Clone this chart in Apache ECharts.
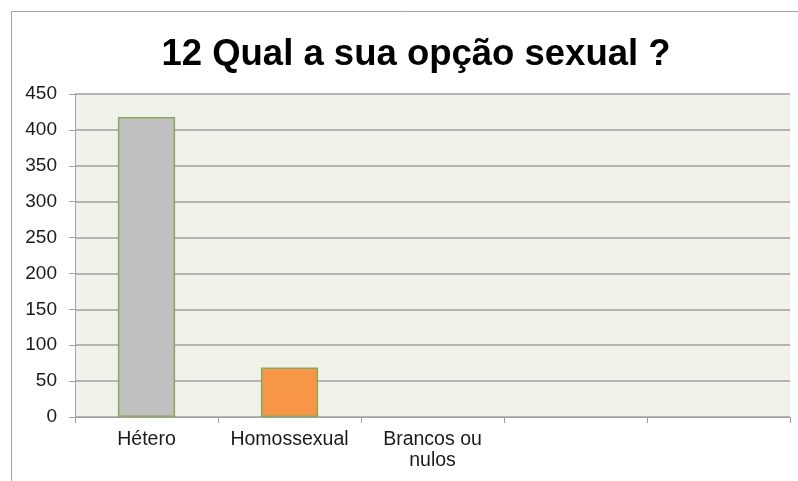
<!DOCTYPE html>
<html>
<head>
<meta charset="utf-8">
<title>12 Qual a sua opção sexual ?</title>
<script src="https://cdn.jsdelivr.net/npm/echarts@6/dist/echarts.min.js"></script>
<style>
  html, body { margin: 0; padding: 0; background: #ffffff; }
  #chart { width: 798px; height: 481px; }
</style>
</head>
<body>
<div id="chart"></div>
<script>
// Survey answers: question 12
const categories = ['Hétero', 'Homossexual', 'Brancos ou\nnulos', '', ''];
const counts = [418, 69, 0, null, null];
const barColors = ['#C0C0C0', '#F79646', '#4F81BD', '#C0C0C0', '#C0C0C0'];
const yTicks = { min: 0, max: 450, step: 50 };

const chart = echarts.init(document.getElementById('chart'), null, { renderer: 'canvas' });

const FONT = '"Liberation Sans", Arial, sans-serif';

chart.setOption({
  animation: false,
  backgroundColor: '#ffffff',
  title: {
    text: '12 Qual a sua opção sexual ?',
    left: 411,
    textAlign: 'center',
    top: 31,
    textStyle: { fontFamily: FONT, fontWeight: 'bold', fontSize: 36.5, color: '#000000' }
  },
  graphic: [{
    type: 'rect',
    shape: { x: 11.5, y: 11.5, width: 820, height: 500 },
    style: { fill: 'none', stroke: '#A6A6A6', lineWidth: 1 },
    silent: true,
    z: -10
  }],
  grid: {
    left: 75, right: 8, top: 94, bottom: 64,
    show: true,
    backgroundColor: '#EEF2E8',
    borderWidth: 0
  },
  xAxis: {
    type: 'category',
    data: categories,
    axisLine: { show: true, lineStyle: { color: '#A0A0A0', width: 1 } },
    axisTick: { show: true, alignWithLabel: false, length: 6, lineStyle: { color: '#A0A0A0' } },
    axisLabel: {
      interval: 0,
      margin: 12,
      fontFamily: FONT,
      fontSize: 19.5,
      lineHeight: 21,
      color: '#1a1a1a'
    }
  },
  yAxis: {
    type: 'value',
    min: yTicks.min,
    max: yTicks.max,
    interval: yTicks.step,
    axisLine: { show: true, lineStyle: { color: '#A0A0A0', width: 1 } },
    axisTick: { show: true, length: 6, lineStyle: { color: '#A0A0A0' } },
    splitLine: { show: true, lineStyle: { color: '#A0A0A0', width: 1.5 } },
    axisLabel: {
      margin: 18,
      fontFamily: FONT,
      fontSize: 19,
      color: '#1a1a1a'
    }
  },
  series: [{
    type: 'bar',
    barWidth: '40%',
    data: counts.map((v, i) => ({
      value: v,
      itemStyle: {
        color: barColors[i],
        borderColor: '#8AA85A',
        borderWidth: v ? 1.5 : 0
      }
    }))
  }]
});
</script>
</body>
</html>
